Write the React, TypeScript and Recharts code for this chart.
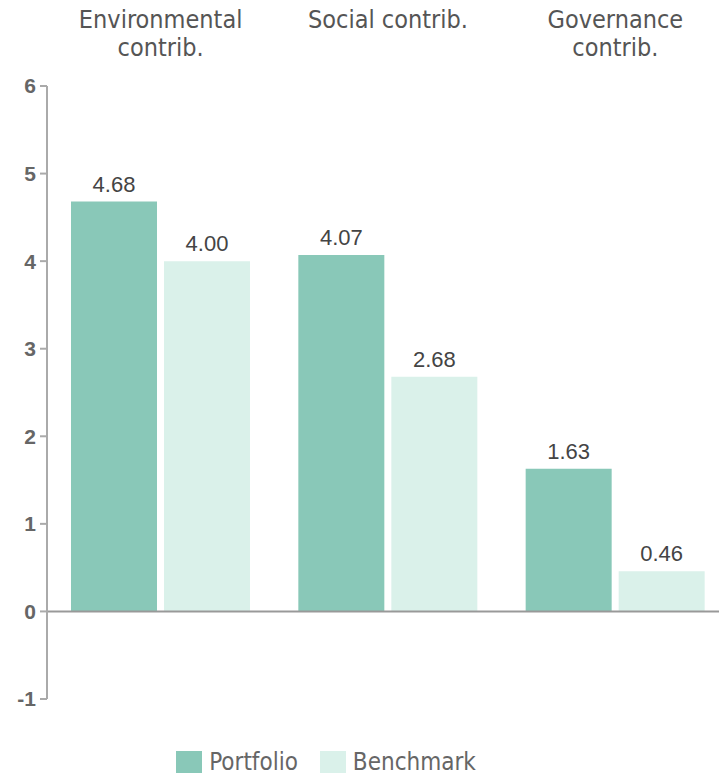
import React from 'react';
import { BarChart, Bar, XAxis, YAxis, ReferenceLine, Legend, LabelList } from 'recharts';

const categories = ['Environmental contrib.', 'Social contrib.', 'Governance contrib.'];
const categoryLines = [['Environmental', 'contrib.'], ['Social contrib.'], ['Governance', 'contrib.']];
const portfolio = [4.68, 4.07, 1.63];
const benchmark = [4.0, 2.68, 0.46];
const yTicks = [-1, 0, 1, 2, 3, 4, 5, 6];

const PORTFOLIO_COLOR = '#89c8b8';
const BENCHMARK_COLOR = '#daf1ea';
const condensed = '"DejaVu Sans Condensed", sans-serif';
const labelFont = '"Liberation Sans", Arial, sans-serif';

const data = categories.map((name, i) => ({
  name,
  portfolio: portfolio[i],
  benchmark: benchmark[i],
}));

function CategoryTick(props: any) {
  const { x, payload, index } = props;
  const lines = categoryLines[index] || [payload.value];
  return (
    <text x={x} y={28} textAnchor="middle" fill="#555" fontSize={25} fontFamily={condensed}>
      {lines.map((l: string, i: number) => (
        <tspan key={i} x={x} dy={i === 0 ? 0 : 28}>{l}</tspan>
      ))}
    </text>
  );
}

function LegendContent() {
  const items = [
    { label: 'Portfolio', color: PORTFOLIO_COLOR },
    { label: 'Benchmark', color: BENCHMARK_COLOR },
  ];
  return (
    <div style={{ display: 'flex', justifyContent: 'center', gap: 22, fontFamily: condensed, fontSize: 24, color: '#666' }}>
      {items.map((it) => (
        <div key={it.label} style={{ display: 'flex', alignItems: 'center' }}>
          <span style={{ display: 'inline-block', width: 26, height: 22, background: it.color, marginRight: 7 }} />
          {it.label}
        </div>
      ))}
    </div>
  );
}

export default function App() {
  return (
    <div style={{ position: 'absolute', left: 0, top: 0, width: 719, height: 776, overflow: 'hidden', background: '#fff' }}>
      <BarChart
        width={729}
        height={776}
        data={data}
        margin={{ top: 0, right: 0, bottom: 49, left: 0 }}
        barSize={86}
        barGap={7}
      >
        <XAxis
          dataKey="name"
          orientation="top"
          height={86}
          axisLine={false}
          tickLine={false}
          tick={<CategoryTick />}
          interval={0}
        />
        <YAxis
          width={47}
          domain={[-1, 6]}
          ticks={yTicks}
          interval={0}
          axisLine={{ stroke: '#aaa', strokeWidth: 2 }}
          tickLine={{ stroke: '#aaa', strokeWidth: 2 }}
          tickSize={7}
          tickMargin={4}
          tick={{ fill: '#666', fontSize: 21, fontWeight: 'bold', fontFamily: labelFont }}
        />
        <ReferenceLine y={0} stroke="#999" strokeWidth={2} />
        <Legend
          verticalAlign="bottom"
          content={<LegendContent />}
          wrapperStyle={{ position: 'absolute', top: 748, left: 0, width: 652 }}
        />
        <Bar dataKey="portfolio" name="Portfolio" fill={PORTFOLIO_COLOR} isAnimationActive={false}>
          <LabelList
            dataKey="portfolio"
            position="top"
            offset={10}
            formatter={(v: any) => Number(v).toFixed(2)}
            style={{ fill: '#444', fontSize: 22, fontFamily: labelFont }}
          />
        </Bar>
        <Bar dataKey="benchmark" name="Benchmark" fill={BENCHMARK_COLOR} isAnimationActive={false}>
          <LabelList
            dataKey="benchmark"
            position="top"
            offset={10}
            formatter={(v: any) => Number(v).toFixed(2)}
            style={{ fill: '#444', fontSize: 22, fontFamily: labelFont }}
          />
        </Bar>
      </BarChart>
    </div>
  );
}
